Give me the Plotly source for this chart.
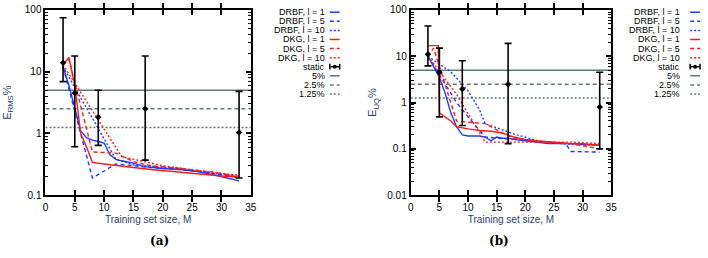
import plotly.graph_objects as go

W, H = 708, 258

# ---------------- data: panel (a) E_RMS% ----------------
a_drbf1_x = [3, 4, 5, 6, 7, 8, 9, 10, 11, 12, 13, 15, 17, 20, 23, 26, 29, 31, 33]
a_drbf1_y = [12, 6, 2.6, 1.1, 0.85, 0.78, 0.74, 0.7, 0.45, 0.38, 0.36, 0.33, 0.29, 0.27, 0.26, 0.24, 0.21, 0.19, 0.17]
a_drbf5_x = [3, 8, 12, 15, 18, 23, 28, 33]
a_drbf5_y = [12, 0.19, 0.32, 0.3, 0.28, 0.26, 0.23, 0.19]
a_drbf10_x = [3, 12, 15, 23, 33]
a_drbf10_y = [12, 0.38, 0.31, 0.27, 0.2]
a_dkg1_x = [3, 4, 5, 6, 7, 8, 10, 12, 15, 18, 20, 23, 26, 29, 31, 33]
a_dkg1_y = [13, 17, 6, 1.0, 0.6, 0.34, 0.32, 0.3, 0.28, 0.26, 0.25, 0.23, 0.22, 0.21, 0.2, 0.2]
a_dkg5_x = [3, 4, 8, 12, 15, 18, 23, 28, 33]
a_dkg5_y = [13, 16, 0.5, 0.48, 0.35, 0.3, 0.27, 0.24, 0.2]
a_dkg10_x = [3, 13, 20, 26, 33]
a_dkg10_y = [13, 0.42, 0.3, 0.25, 0.21]
a_static_x = [3, 5, 9, 17, 33]
a_static_y = [14, 4.5, 1.83, 2.5, 1.04]
a_static_hi = [75, 18, 5.0, 18, 4.8]
a_static_lo = [6.9, 0.61, 0.64, 0.37, 0.19]

# ---------------- data: panel (b) E_UQ% ----------------
b_drbf1_x = [3, 4, 5, 6, 7, 8, 9, 10, 11, 12, 13, 14, 15, 16, 17, 18, 20, 22, 24, 26, 28, 30, 33]
b_drbf1_y = [10, 6, 3.5, 1.6, 0.6, 0.3, 0.2, 0.19, 0.19, 0.19, 0.18, 0.15, 0.18, 0.17, 0.17, 0.16, 0.15, 0.14, 0.13, 0.13, 0.13, 0.125, 0.12]
b_drbf5_x = [3, 8, 11, 13, 18, 23, 27, 28, 33]
b_drbf5_y = [10, 1.0, 0.35, 0.18, 0.16, 0.14, 0.13, 0.088, 0.085]
b_drbf10_x = [3, 7, 10, 12, 13, 18, 23, 28, 33]
b_drbf10_y = [10, 4.6, 1.8, 0.7, 0.35, 0.21, 0.14, 0.125, 0.12]
b_dkg1_x = [3, 4.8, 5, 6, 7, 8, 9, 10, 11, 12, 14, 16, 18, 20, 22, 25, 28, 30, 33]
b_dkg1_y = [17, 17, 0.6, 0.5, 0.4, 0.3, 0.28, 0.27, 0.26, 0.25, 0.24, 0.22, 0.18, 0.16, 0.15, 0.14, 0.13, 0.13, 0.12]
b_dkg5_x = [3, 4, 8, 10, 13, 16, 18, 23, 28, 33]
b_dkg5_y = [10, 15, 0.4, 0.38, 0.35, 0.22, 0.17, 0.14, 0.13, 0.1]
b_dkg10_x = [3, 8, 11, 13, 18, 23, 28, 33]
b_dkg10_y = [10, 1.5, 0.36, 0.14, 0.14, 0.14, 0.14, 0.13]
b_static_x = [3, 5, 9, 17, 33]
b_static_y = [11, 4.5, 1.96, 2.5, 0.8]
b_static_hi = [45, 15, 8, 19, 4.5]
b_static_lo = [6.2, 0.49, 0.32, 0.13, 0.1]

ref_levels = [5, 2.5, 1.25]
ref_names = ["5%", "2.5%", "1.25%"]
x_ticks = [0, 5, 10, 15, 20, 25, 30, 35]

series_names = ["DRBF, l = 1", "DRBF, l = 5", "DRBF, l = 10",
                "DKG, l = 1", "DKG, l = 5", "DKG, l = 10"]
series_colors = ["#1a3cff", "#1a3cff", "#1a3cff", "#ff1a1a", "#ff1a1a", "#ff1a1a"]
DASH = "4px,3px"
DOT = "2px,2px"
series_dash = ["solid", DASH, DOT, "solid", DASH, DOT]
ref_dash = ["solid", DASH, DOT]
REF_COLOR = "#5f7a76"
FONT = "Liberation Sans, Arial, sans-serif"

fig = go.Figure()

panels = [
    ("x", "y", [(a_drbf1_x, a_drbf1_y), (a_drbf5_x, a_drbf5_y), (a_drbf10_x, a_drbf10_y),
                (a_dkg1_x, a_dkg1_y), (a_dkg5_x, a_dkg5_y), (a_dkg10_x, a_dkg10_y)],
     (a_static_x, a_static_y, a_static_hi, a_static_lo)),
    ("x2", "y2", [(b_drbf1_x, b_drbf1_y), (b_drbf5_x, b_drbf5_y), (b_drbf10_x, b_drbf10_y),
                  (b_dkg1_x, b_dkg1_y), (b_dkg5_x, b_dkg5_y), (b_dkg10_x, b_dkg10_y)],
     (b_static_x, b_static_y, b_static_hi, b_static_lo)),
]

for xa, ya, ser, st in panels:
    for lev, dsh in zip(ref_levels, ref_dash):
        fig.add_trace(go.Scatter(x=[0, 35], y=[lev, lev], mode="lines", xaxis=xa, yaxis=ya,
                                 line=dict(color=REF_COLOR, width=1.5, dash=dsh), showlegend=False))
    for (sx, sy), col, dsh in zip(ser, series_colors, series_dash):
        fig.add_trace(go.Scatter(x=sx, y=sy, mode="lines", xaxis=xa, yaxis=ya,
                                 line=dict(color=col, width=1.4, dash=dsh), showlegend=False))
    sx, sy, hi, lo = st
    fig.add_trace(go.Scatter(
        x=sx, y=sy, mode="markers", xaxis=xa, yaxis=ya, showlegend=False,
        marker=dict(color="black", size=5, symbol="diamond"),
        error_y=dict(type="data", array=[h - v for h, v in zip(hi, sy)],
                     arrayminus=[v - l for v, l in zip(sy, lo)],
                     color="black", thickness=1.6, width=3.5)))

axis_common = dict(showgrid=False, zeroline=False, showline=True, linecolor="black", linewidth=2,
                   mirror="allticks", ticks="inside", ticklen=5, tickwidth=1.5, tickcolor="black",
                   ticklabeloverflow="allow",
                   tickfont=dict(family=FONT, size=10, color="black"))


def minor_vals(lo_exp, hi_exp):
    vals = []
    for e in range(lo_exp, hi_exp):
        for m in range(2, 10):
            vals.append(m * 10 ** e)
    return vals


xdom1 = [43 / W, 251 / W]
xdom2 = [413 / W, 616 / W]
ydom = [1 - 198 / H, 1 - 5 / H]
yr1 = [-1.003, 2.003]
yr2 = [-2.003, 2.003]

minor_common = dict(showgrid=False, zeroline=False, showline=True, linecolor="black", linewidth=2,
                    mirror="allticks", ticks="inside", ticklen=3, tickwidth=1, tickcolor="black",
                    showticklabels=False, type="log")

fig.update_layout(
    width=W, height=H, margin=dict(l=0, r=0, t=0, b=0),
    paper_bgcolor="white", plot_bgcolor="white", showlegend=False,
    xaxis=dict(domain=xdom1, range=[0, 35], tickvals=x_ticks, anchor="y", ticklabelstandoff=2,
               title=dict(text="Training set size, M", font=dict(family=FONT, size=10), standoff=4),
               **axis_common),
    yaxis=dict(domain=ydom, type="log", range=yr1, anchor="x",
               tickvals=[0.1, 1, 10, 100], ticktext=["0.1", "1", "10", "100"],
               title=dict(text="E<sub>RMS</sub>%", font=dict(family=FONT, size=11), standoff=11),
               **axis_common),
    yaxis3=dict(domain=ydom, range=yr1, anchor="x", overlaying="y",
                tickvals=minor_vals(-1, 2), **minor_common),
    xaxis2=dict(domain=xdom2, range=[0, 35], tickvals=x_ticks, anchor="y2", ticklabelstandoff=2,
                title=dict(text="Training set size, M", font=dict(family=FONT, size=10), standoff=4),
                **axis_common),
    yaxis2=dict(domain=ydom, type="log", range=yr2, anchor="x2",
                tickvals=[0.01, 0.1, 1, 10, 100], ticktext=["0.01", "0.1", "1", "10", "100"],
                title=dict(text="E<sub>UQ</sub>%", font=dict(family=FONT, size=11), standoff=8),
                **axis_common),
    yaxis4=dict(domain=ydom, range=yr2, anchor="x2", overlaying="y2",
                tickvals=minor_vals(-2, 2), **minor_common),
)

# invisible anchor traces so the minor-tick overlay axes are drawn
fig.add_trace(go.Scatter(x=[None], y=[None], xaxis="x", yaxis="y3", showlegend=False, hoverinfo="skip"))
fig.add_trace(go.Scatter(x=[None], y=[None], xaxis="x2", yaxis="y4", showlegend=False, hoverinfo="skip"))

# panel labels
fig.add_annotation(x=(43 + 251) / 2 / W, y=1 - 246 / H, xref="paper", yref="paper", showarrow=False,
                   yanchor="middle", text="<b>(a)</b>",
                   font=dict(family="DejaVu Serif, serif", size=12, color="black"))
fig.add_annotation(x=(413 + 616) / 2 / W, y=1 - 246 / H, xref="paper", yref="paper", showarrow=False,
                   yanchor="middle", text="<b>(b)</b>",
                   font=dict(family="DejaVu Serif, serif", size=12, color="black"))

# legends (drawn by hand: text right-aligned, sample on the right)
leg_names = series_names + ["static"] + ref_names
leg_colors = series_colors + ["black"] + [REF_COLOR] * 3
leg_dash = series_dash + ["solid"] + ref_dash
for text_right, s0 in [(327, 331), (687, 696)]:
    for i, (nm, col, dsh) in enumerate(zip(leg_names, leg_colors, leg_dash)):
        yy = 7.5 + i * 9.45
        yp = 1 - yy / H
        fig.add_annotation(x=text_right / W, y=yp, xref="paper", yref="paper", showarrow=False,
                           xanchor="right", yanchor="middle", text=nm, borderpad=0,
                           font=dict(family=FONT, size=9, color="black"))
        fig.add_shape(type="line", xref="paper", yref="paper", x0=s0 / W, x1=(s0 + 10) / W,
                      y0=yp, y1=yp, line=dict(color=col, width=1.5, dash=dsh))
        if nm == "static":
            for xc in (s0, s0 + 10):
                fig.add_shape(type="line", xref="paper", yref="paper", x0=xc / W, x1=xc / W,
                              y0=yp - 3 / H, y1=yp + 3 / H, line=dict(color="black", width=1.5))
            fig.add_shape(type="circle", xref="paper", yref="paper", fillcolor="black",
                          x0=(s0 + 3) / W, x1=(s0 + 7) / W, y0=yp - 2 / H, y1=yp + 2 / H,
                          line=dict(color="black", width=0))

fig.write_html("out.html", config={"displayModeBar": False},
               post_script="document.body.style.margin='0';document.body.style.overflow='hidden';")
